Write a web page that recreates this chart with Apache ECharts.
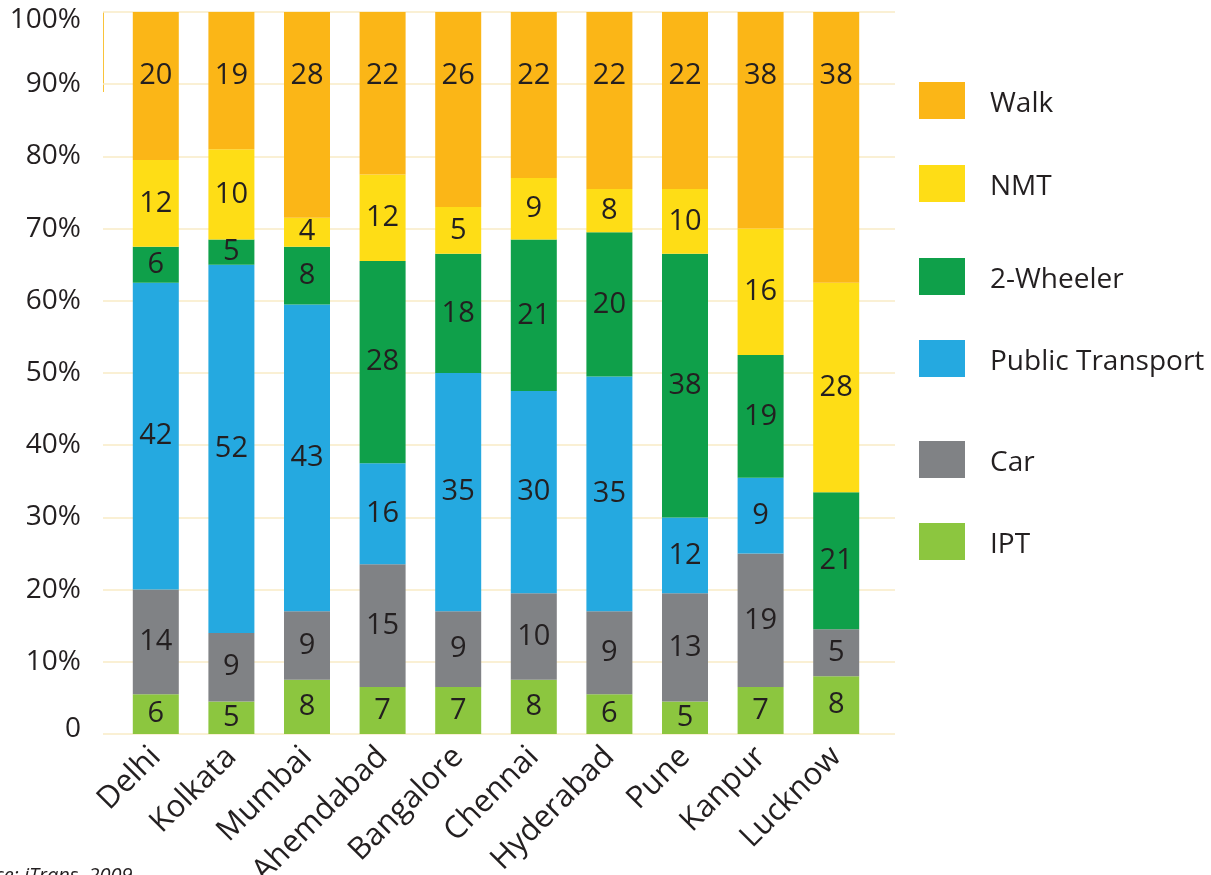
<!DOCTYPE html>
<html>
<head>
<meta charset="utf-8">
<script src="https://cdn.jsdelivr.net/npm/echarts@6/dist/echarts.min.js"></script>
<style>
html,body{margin:0;padding:0;background:#fff;}
#chart{width:1211px;height:875px;}
</style>
</head>
<body>
<div id="chart"></div>
<script>
// ---- data ----
const categories = ['Delhi','Kolkata','Mumbai','Ahemdabad','Bangalore','Chennai','Hyderabad','Pune','Kanpur','Lucknow'];
const yTicks = [0,10,20,30,40,50,60,70,80,90,100];
// segment heights (%)
const iptVals  = [5.5,4.5,7.5,6.5,6.5,7.5,5.5,4.5,6.5,8];
const carVals  = [14.5,9.5,9.5,17,10.5,12,11.5,15,18.5,6.5];
const ptVals   = [42.5,51,42.5,14,33,28,32.5,10.5,10.5,0];
const twVals   = [5,3.5,8,28,16.5,21,20,36.5,17,19];
const nmtVals  = [12,12.5,4,12,6.5,8.5,6,9,17.5,29];
const walkVals = [20.5,19,28.5,22.5,27,23,24.5,24.5,30,37.5];
// printed labels
const iptLbl  = [6,5,8,7,7,8,6,5,7,8];
const carLbl  = [14,9,9,15,9,10,9,13,19,5];
const ptLbl   = [42,52,43,16,35,30,35,12,9,''];
const twLbl   = [6,5,8,28,18,21,20,38,19,21];
const nmtLbl  = [12,10,4,12,5,9,8,10,16,28];
const walkLbl = [20,19,28,22,26,22,22,22,38,38];

const FONT = 'Open Sans';
const TXT = '#231F20';
const colors = {Walk:'#FBB617', NMT:'#FEDD16', '2-Wheeler':'#0FA04A', 'Public Transport':'#25A9E0', Car:'#808285', IPT:'#8CC63F'};

function mk(name, vals, lbls, labelOpt) {
  return {
    name: name, type: 'bar', stack: 'total', xAxisIndex: 0, yAxisIndex: 0,
    barWidth: 46, data: vals,
    itemStyle: {color: colors[name]},
    label: Object.assign({
      show: true, position: 'inside', color: TXT, fontFamily: FONT, fontSize: 29,
      formatter: p => String(lbls[p.dataIndex])
    }, labelOpt || {}),
    emphasis: {disabled: true}
  };
}

const legendNames = ['Walk','NMT','2-Wheeler','Public Transport','Car','IPT'];
const legendTops = [82,165,258,340,441,523];
const legends = legendNames.map((n, i) => ({
  data: [n], left: 919, top: legendTops[i], padding: 0,
  itemWidth: 46, itemHeight: 37, icon: 'rect',
  formatter: '{t|{name}}',
  textStyle: {fontFamily: FONT, fontSize: 28, color: TXT,
    rich: {t: {fontFamily: FONT, fontSize: 28, color: TXT, padding: [8,0,0,20]}}}
}));

const yRich = {
  top: {fontFamily: FONT, fontSize: 28, color: TXT, padding: [16,0,0,0]},
  bot: {fontFamily: FONT, fontSize: 28, color: TXT, padding: [0,0,10,0]}
};

const chart = echarts.init(document.getElementById('chart'), null, {renderer: 'canvas'});
chart.setOption({
  animation: false,
  backgroundColor: '#fff',
  grid: [
    {left: 118, right: 337, top: 12, bottom: 141, containLabel: false, outerBoundsMode: 'none'},
    {left: 103, right: 316, top: 12, bottom: 141, containLabel: false, outerBoundsMode: 'none'}
  ],
  xAxis: [
    {type: 'category', gridIndex: 0, data: categories,
     axisLine: {show: false}, axisTick: {show: false},
     axisLabel: {rotate: 45, margin: 18, fontFamily: FONT, fontSize: 31, color: TXT, interval: 0}},
    {type: 'value', gridIndex: 1, show: false, min: 0, max: 1}
  ],
  yAxis: [
    {type: 'value', gridIndex: 0, min: 0, max: 100, interval: 10, show: false},
    {type: 'value', gridIndex: 1, min: 0, max: 100, interval: 10,
     axisLine: {show: false}, axisTick: {show: false},
     splitLine: {show: true, lineStyle: {color: '#F9EBC6', width: 1.5}},
     axisLabel: {margin: 22, fontFamily: FONT, fontSize: 28, color: TXT, rich: yRich,
       formatter: v => v === 0 ? '{bot|0}' : (v === 100 ? '{top|100%}' : v + '%')}}
  ],
  legend: legends,
  series: [
    mk('IPT', iptVals, iptLbl),
    mk('Car', carVals, carLbl),
    mk('Public Transport', ptVals, ptLbl),
    mk('2-Wheeler', twVals, twLbl),
    mk('NMT', nmtVals, nmtLbl),
    mk('Walk', walkVals, walkLbl, {position: 'insideTop', distance: 49})
  ],
  graphic: [
    {type: 'line', shape: {x1: 103.5, y1: 12, x2: 103.5, y2: 92}, style: {stroke: '#F9C33A', lineWidth: 1}},
    {type: 'text', left: -46, top: 866, style: {text: 'Source: iTrans, 2009', font: 'italic 20px "Open Sans"', fill: TXT}}
  ]
});
</script>
</body>
</html>
